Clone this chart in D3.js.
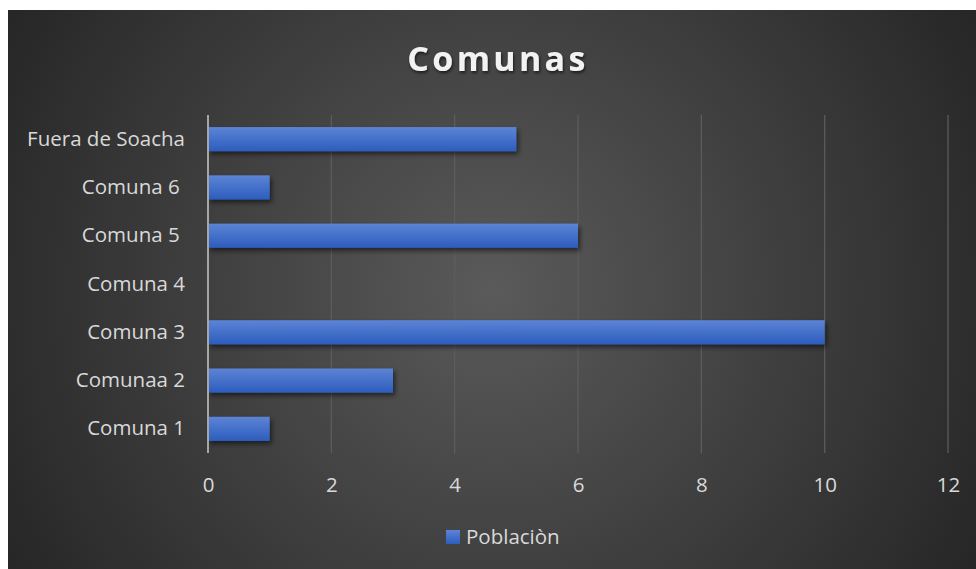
<!DOCTYPE html>
<html><head><meta charset="utf-8">
<script src="https://cdn.jsdelivr.net/npm/d3@7"></script>
<style>
html,body{margin:0;padding:0;background:#fff;}
svg{display:block;}
text{white-space:pre;}
</style></head>
<body>
<svg id="chart" width="976" height="569"></svg>
<script>
const categories = ["Comuna 1", "Comunaa 2", "Comuna 3", "Comuna 4", "Comuna 5 ", "Comuna 6 ", "Fuera de Soacha"];
const values = [1, 3, 10, 0, 6, 1, 5];
const xTicks = [0, 2, 4, 6, 8, 10, 12];
const seriesName = "Poblaciòn";
const title = "Comunas";

const W = 976, H = 569;
const FONT = "'Open Sans', 'Noto Sans', sans-serif";
const FS = 20.5;
const svg = d3.select("#chart");
const defs = svg.append("defs");

const bg = defs.append("radialGradient").attr("id","bg")
  .attr("gradientUnits","userSpaceOnUse")
  .attr("cx", 492).attr("cy", 290).attr("r", 560);
bg.append("stop").attr("offset","0%").attr("stop-color","#5a5a5a");
bg.append("stop").attr("offset","100%").attr("stop-color","#262626");

const barG = defs.append("linearGradient").attr("id","barG").attr("x1",0).attr("y1",0).attr("x2",0).attr("y2",1);
barG.append("stop").attr("offset","0%").attr("stop-color","#5c84d6");
barG.append("stop").attr("offset","100%").attr("stop-color","#2d5dbe");

const sh = defs.append("filter").attr("id","shadow").attr("x","-10%").attr("y","-50%").attr("width","130%").attr("height","250%");
sh.append("feDropShadow").attr("dx",2).attr("dy",3).attr("stdDeviation",2.5).attr("flood-color","#000").attr("flood-opacity",0.55);

const tsh = defs.append("filter").attr("id","tshadow").attr("x","-10%").attr("y","-30%").attr("width","120%").attr("height","160%");
tsh.append("feDropShadow").attr("dx",1).attr("dy",2).attr("stdDeviation",1.5).attr("flood-color","#000").attr("flood-opacity",0.6);

svg.append("rect").attr("x",8).attr("y",10).attr("width",W-8).attr("height",H-10).attr("fill","url(#bg)");

const x = d3.scaleLinear().domain([0, 12]).range([208, 948]);
const y = d3.scaleBand().domain(categories.slice().reverse()).range([115, 453]).paddingInner(0.5).paddingOuter(0.25);

// gridlines
svg.append("g").selectAll("line").data(xTicks.filter(d => d > 0)).join("line")
  .attr("x1", d => x(d)).attr("x2", d => x(d))
  .attr("y1", 115).attr("y2", 453)
  .attr("stroke", "#5e5e5e").attr("stroke-width", 1.2);

// x axis labels
const xAxis = d3.axisBottom(x).tickValues(xTicks).tickSize(0).tickPadding(0).tickFormat(d3.format("d"));
const gx = svg.append("g").attr("transform", "translate(0,477)").call(xAxis);
gx.select(".domain").remove();
gx.selectAll("text").attr("fill", "#d9d9d9").attr("font-size", FS).attr("font-family", FONT).attr("dy", "0.75em");

// bars
svg.append("g").selectAll("rect").data(values).join("rect")
  .attr("x", x(0))
  .attr("y", (d, i) => y(categories[i]))
  .attr("width", d => x(d) - x(0))
  .attr("height", y.bandwidth())
  .attr("fill", "url(#barG)")
  .attr("filter", "url(#shadow)")
  .attr("display", d => d > 0 ? null : "none");

// y axis
const yAxis = d3.axisLeft(y).tickSize(0).tickPadding(23);
const gy = svg.append("g").attr("transform", `translate(${x(0)},0)`).call(yAxis);
gy.select(".domain").remove();
gy.selectAll("text").attr("fill", "#d9d9d9").attr("font-size", FS).attr("font-family", FONT);
svg.append("line").attr("x1", x(0)).attr("x2", x(0)).attr("y1", 115).attr("y2", 453)
  .attr("stroke", "#a6a6a6").attr("stroke-width", 2);

// title
svg.append("text").attr("x", 498).attr("y", 71).attr("text-anchor", "middle")
  .attr("fill", "#f2f2f2").attr("font-size", 34).attr("font-weight", "bold")
  .attr("letter-spacing", 3.3).attr("font-family", FONT)
  .attr("filter", "url(#tshadow)").text(title);

// legend
const lg = svg.append("g");
lg.append("rect").attr("x", 446).attr("y", 530).attr("width", 14).attr("height", 14).attr("fill", "url(#barG)");
lg.append("text").attr("x", 466).attr("y", 544).attr("fill", "#d9d9d9").attr("font-size", FS)
  .attr("font-family", FONT).text(seriesName);
</script>
</body></html>
